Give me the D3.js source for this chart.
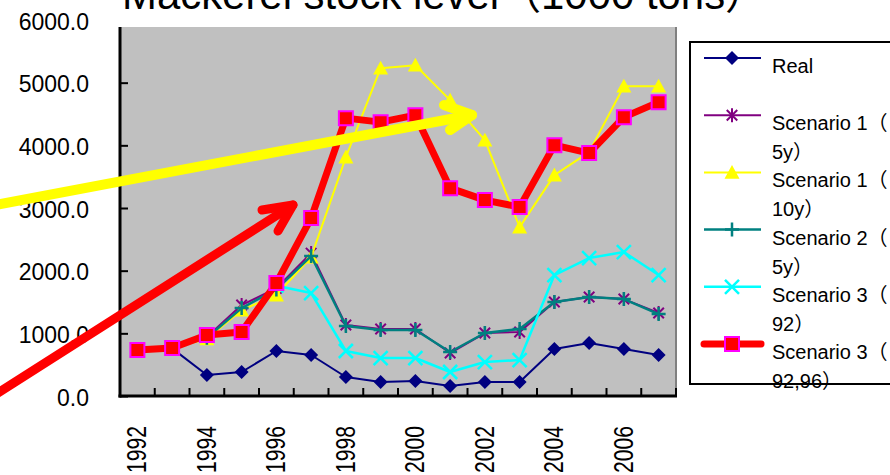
<!DOCTYPE html>
<html>
<head>
<meta charset="utf-8">
<script src="https://cdn.jsdelivr.net/npm/d3@7"></script>
<style>
  html, body { margin: 0; padding: 0; background: #fff; }
  svg { display: block; }
  text { font-family: "Liberation Sans", Arial, "Noto Sans CJK JP", sans-serif; fill: #000; }
</style>
</head>
<body>
<script>
// data (1000 tons)
var years = [1992, 1993, 1994, 1995, 1996, 1997, 1998, 1999, 2000, 2001, 2002, 2003, 2004, 2005, 2006, 2007];
var real      = [730, 760, 335, 383, 718, 654, 303, 223, 239, 159, 223, 223, 750, 845, 750, 654];
var sc1_5y    = [734, 765, 940, 1451, 1720, 2280, 1132, 1069, 1069, 686, 1005, 1021, 1499, 1579, 1547, 1324];
var sc1_10y   = [734, 765, 910, 1371, 1611, 2217, 3812, 5231, 5279, 4721, 4083, 2695, 3525, 3892, 4944, 4944];
var sc2_5y    = [734, 765, 930, 1403, 1700, 2233, 1116, 1053, 1053, 702, 1005, 1069, 1499, 1579, 1547, 1308];
var sc3_92    = [734, 765, 980, 1021, 1760, 1643, 718, 606, 606, 383, 542, 574, 1930, 2201, 2297, 1930];
var sc3_9296  = [734, 765, 973, 1021, 1802, 2839, 4434, 4370, 4482, 3317, 3126, 3014, 4003, 3876, 4450, 4689];
var yTicks = [0, 1000, 2000, 3000, 4000, 5000, 6000];
// legend labels, wrapped as in the source
var seriesNames = [["Real"], ["Scenario 1（", "5y）"], ["Scenario 1（", "10y）"], ["Scenario 2（", "5y）"], ["Scenario 3（", "92）"], ["Scenario 3（", "92,96）"]];
var titleText = "Mackerel stock level（1000 tons）";

var W = 890, H = 475;
var plotL = 120, plotR = 676, plotT = 27, plotB = 396;

var svg = d3.select("body").append("svg").attr("width", W).attr("height", H);

var x = d3.scaleBand().domain(years).range([plotL, plotR]);
var y = d3.scaleLinear().domain([0, 6000]).range([plotB, 20]);

// marker shapes, r = half width
var shapes = {
  diamond: function(r) { return "M0," + (-r) + "L" + r + ",0L0," + r + "L" + (-r) + ",0Z"; },
  triangle: function(r) { return "M0," + (-r) + "L" + r + "," + (r * 0.85) + "L" + (-r) + "," + (r * 0.85) + "Z"; },
  square: function(r) { return "M" + (-r) + "," + (-r) + "h" + (2 * r) + "v" + (2 * r) + "h" + (-2 * r) + "Z"; },
  asterisk: function(r) { var k = r * 0.75; return "M" + (-k) + "," + (-k) + "L" + k + "," + k + "M" + (-k) + "," + k + "L" + k + "," + (-k) + "M0," + (-r) + "V" + r; },
  plus: function(r) { return "M" + (-r) + ",0H" + r + "M0," + (-r) + "V" + r; },
  times: function(r) { return "M" + (-r) + "," + (-r) + "L" + r + "," + r + "M" + (-r) + "," + r + "L" + r + "," + (-r); }
};

var series = [
  { values: real,     color: "#000080", width: 2,   shape: "diamond",  r: 7,   fill: "#000080", stroke: "none", sw: 0 },
  { values: sc1_5y,   color: "#800080", width: 2,   shape: "asterisk", r: 7,   fill: "none", stroke: "#800080", sw: 2 },
  { values: sc1_10y,  color: "#ffff00", width: 2,   shape: "triangle", r: 7.5, fill: "#ffff00", stroke: "none", sw: 0 },
  { values: sc2_5y,   color: "#008080", width: 2.5, shape: "plus",     r: 7,   fill: "none", stroke: "#008080", sw: 2.5 },
  { values: sc3_92,   color: "#00ffff", width: 2.5, shape: "times",    r: 7,   fill: "none", stroke: "#00ffff", sw: 2.5 },
  { values: sc3_9296, color: "#ff0000", width: 7,   shape: "square",   r: 7,   fill: "#ff0000", stroke: "#ff00ff", sw: 2 }
];

// plot background
svg.append("rect").attr("x", plotL).attr("y", plotT).attr("width", plotR - plotL).attr("height", plotB - plotT)
  .attr("fill", "#c0c0c0");
svg.append("line").attr("x1", plotR).attr("x2", plotR).attr("y1", plotT).attr("y2", plotB)
  .attr("stroke", "#808080").attr("stroke-width", 2);

// title (mostly above the window, as in the source)
svg.append("text").attr("x", 122).attr("y", 9).attr("font-size", 42)
  .attr("textLength", 645).attr("lengthAdjust", "spacingAndGlyphs").text(titleText);

// y axis
var yAxis = d3.axisLeft(y).tickValues(yTicks).tickFormat(d3.format(".1f")).tickSize(-8).tickPadding(31);
var gy = svg.append("g").attr("transform", "translate(" + plotL + ",0)").call(yAxis);
gy.select(".domain").remove();
gy.selectAll(".tick line").attr("stroke", "#000").attr("stroke-width", 2)
  .filter(function(d) { return d === 6000; }).remove();
gy.selectAll(".tick text").attr("font-size", 23).attr("dy", "0.4em")
  .style("font-family", "'Liberation Sans', Arial, sans-serif");

// x ticks on band boundaries
svg.append("g").selectAll("line").data(years.slice(1).concat(["end"])).join("line")
  .attr("x1", function(d) { return d === "end" ? plotR : x(d); })
  .attr("x2", function(d) { return d === "end" ? plotR : x(d); })
  .attr("y1", plotB).attr("y2", plotB - 8)
  .attr("stroke", "#000").attr("stroke-width", 2);

// x labels (every other year, rotated)
svg.append("g").selectAll("text").data(years.filter(function(d) { return d % 2 === 0; })).join("text")
  .attr("transform", function(d) { return "translate(" + (x(d) + x.bandwidth() / 2 + 9) + ",473) rotate(-90)"; })
  .attr("font-size", 27).attr("textLength", 47).attr("lengthAdjust", "spacingAndGlyphs")
  .text(function(d) { return d; });

// axis lines
svg.append("line").attr("x1", plotL).attr("x2", plotL).attr("y1", plotT).attr("y2", plotB + 1.5)
  .attr("stroke", "#000").attr("stroke-width", 3);
svg.append("line").attr("x1", plotL - 1.5).attr("x2", plotR + 1).attr("y1", plotB).attr("y2", plotB)
  .attr("stroke", "#000").attr("stroke-width", 3);

// series
var line = d3.line()
  .x(function(d, i) { return x(years[i]) + x.bandwidth() / 2; })
  .y(function(d) { return y(d); });

series.forEach(function(s) {
  var g = svg.append("g");
  g.append("path").attr("d", line(s.values)).attr("fill", "none")
    .attr("stroke", s.color).attr("stroke-width", s.width).attr("stroke-linejoin", "round");
  g.selectAll("path.m").data(s.values).join("path").attr("class", "m")
    .attr("transform", function(d, i) { return "translate(" + (x(years[i]) + x.bandwidth() / 2) + "," + y(d) + ")"; })
    .attr("d", shapes[s.shape](s.r))
    .attr("fill", s.fill).attr("stroke", s.stroke).attr("stroke-width", s.sw);
});

// annotation arrows
function arrow(x0, y0, x1, y1, wingA, wingB, color, w) {
  var g = svg.append("g").attr("stroke", color).attr("stroke-width", w)
    .attr("stroke-linecap", "round").attr("stroke-linejoin", "round").attr("fill", "none");
  g.append("path").attr("d", "M" + x0 + "," + y0 + "L" + x1 + "," + y1);
  g.append("path").attr("d", "M" + wingA[0] + "," + wingA[1] + "L" + x1 + "," + y1 + "L" + wingB[0] + "," + wingB[1]);
}
arrow(-10, 206, 472, 115, [444, 105], [450, 130], "#ffff00", 10);
arrow(-10, 398, 293, 205, [262, 210], [278, 231], "#ff0000", 9);

// legend
var lg = svg.append("g");
lg.append("rect").attr("x", 690).attr("y", 42).attr("width", 260).attr("height", 342)
  .attr("fill", "#fff").attr("stroke", "#000").attr("stroke-width", 2);
series.forEach(function(s, i) {
  var ly = 58 + i * 57.2;
  lg.append("line").attr("x1", 704).attr("x2", 761).attr("y1", ly).attr("y2", ly)
    .attr("stroke", s.color).attr("stroke-width", s.width).attr("stroke-linecap", s.width > 4 ? "round" : "butt");
  lg.append("path").attr("transform", "translate(732," + ly + ")")
    .attr("d", shapes[s.shape](s.r)).attr("fill", s.fill).attr("stroke", s.stroke).attr("stroke-width", s.sw);
  seriesNames[i].forEach(function(part, j) {
    lg.append("text").attr("x", 772).attr("y", ly + 15 + j * 29).attr("font-size", 20).text(part);
  });
});
</script>
</body>
</html>
